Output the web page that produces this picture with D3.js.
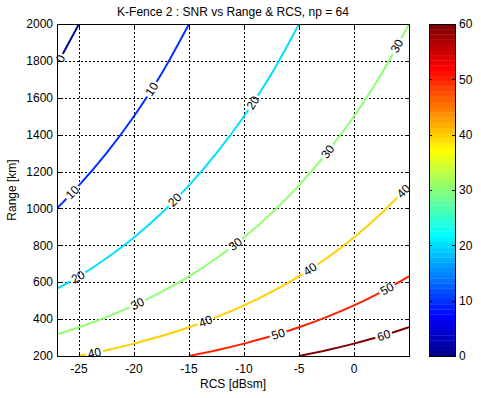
<!DOCTYPE html>
<html>
<head>
<meta charset="utf-8">
<script src="https://cdn.jsdelivr.net/npm/d3@7"></script>
<style>
	body { margin: 0; background: #fff; }
	text { font-family: Arial, "Liberation Sans", sans-serif; font-size: 12px; fill: #000; }
</style>
</head>
<body>
<svg width="481" height="398"></svg>
<script>
// Chart data
const rcs_ticks = [-25, -20, -15, -10, -5, 0];
const range_ticks = [200, 400, 600, 800, 1000, 1200, 1400, 1600, 1800, 2000];
const colorbar_ticks = [0, 10, 20, 30, 40, 50, 60];
const levels = [0, 10, 20, 30, 40, 50, 60];

// Contour points: [RCS dBsm, range km]
const snr_0 = [[-27, 1780], [-26, 1890], [-25, 2000]];
const snr_10 = [[-27, 1000], [-25, 1125], [-22.5, 1300], [-20, 1500], [-17.5, 1730], [-15, 2000]];
const snr_20 = [[-27, 565], [-25, 632], [-22.5, 730], [-20, 843], [-17.5, 974], [-15, 1125],
	[-12.5, 1300], [-10, 1500], [-7.5, 1730], [-5, 2000]];
const snr_30 = [[-27, 317], [-25, 356], [-22.5, 411], [-20, 474], [-17.5, 548], [-15, 632],
	[-12.5, 730], [-10, 843], [-7.5, 974], [-5, 1125], [-2.5, 1300], [0, 1500], [2.5, 1730], [5, 2000]];
const snr_40 = [[-25, 200], [-22.5, 231], [-20, 267], [-17.5, 308], [-15, 356], [-12.5, 411],
	[-10, 474], [-7.5, 548], [-5, 632], [-2.5, 730], [0, 843], [2.5, 974], [5, 1125]];
const snr_50 = [[-15, 200], [-12.5, 231], [-10, 267], [-7.5, 308], [-5, 356], [-2.5, 411],
	[0, 474], [2.5, 548], [5, 632]];
const snr_60 = [[-5, 200], [-2.5, 231], [0, 267], [2.5, 308], [5, 356]];

// Where the inline labels sit, as RCS along each contour
const labels_0 = [-26.7];
const labels_10 = [-25.6, -18.4];
const labels_20 = [-25.1, -16.3, -9.2];
const labels_30 = [-19.7, -10.8, -2.4, 3.9];
const labels_40 = [-23.6, -13.5, -4.0, 4.5];
const labels_50 = [-6.9, 3.0];
const labels_60 = [2.7];

const contour_points = [snr_0, snr_10, snr_20, snr_30, snr_40, snr_50, snr_60];
const contour_labels = [labels_0, labels_10, labels_20, labels_30, labels_40, labels_50, labels_60];

// Layout
const svg = d3.select("svg");
const plot = {left: 57, right: 409, top: 24, bottom: 356};
const cbar = {left: 429, right: 455, top: 24, bottom: 356};

const x = d3.scaleLinear().domain([-27, 5]).range([plot.left, plot.right]);
const y = d3.scaleLinear().domain([200, 2000]).range([plot.bottom, plot.top]);
const c = d3.scaleLinear().domain([0, 60]).range([cbar.bottom, cbar.top]);

/**
 * MATLAB jet colormap with m entries
 */
function jet(m){
	let n = Math.ceil(m / 4);
	let u = [];
	for (let i = 1; i <= n; i++) u.push(i / n);
	for (let i = 1; i < n; i++) u.push(1);
	for (let i = n; i >= 1; i--) u.push(i / n);
	let g0 = Math.ceil(n / 2) - (m % 4 == 1 ? 1 : 0);
	let map = d3.range(m).map(() => [0, 0, 0]);
	u.forEach(function(v, k){
		let g = g0 + k + 1, r = g + n, b = g - n;
		if (r <= m) map[r - 1][0] = v;
		if (g <= m) map[g - 1][1] = v;
		if (b >= 1) map[b - 1][2] = v;
	});
	return map.map(d => d3.rgb(d[0] * 255, d[1] * 255, d[2] * 255).formatHex());
}

const cmap = jet(64);
function level_color(level){
	let idx = Math.min(Math.floor(level / 60 * 64), 63);
	return cmap[idx];
}

// Title and axis labels
svg.append("text")
   .attr("x", (plot.left + plot.right) / 2)
   .attr("y", 16)
   .attr("text-anchor", "middle")
   .text("K-Fence 2 : SNR vs Range & RCS, np = 64");

svg.append("text")
   .attr("x", (plot.left + plot.right) / 2)
   .attr("y", 388)
   .attr("text-anchor", "middle")
   .text("RCS [dBsm]");

svg.append("text")
   .attr("transform", `translate(16, ${(plot.top + plot.bottom) / 2}) rotate(-90)`)
   .attr("text-anchor", "middle")
   .text("Range [km]");

// Grid
const grid = svg.append("g")
   .attr("stroke", "#000")
   .attr("stroke-width", 1)
   .attr("stroke-dasharray", "2,2")
   .attr("shape-rendering", "crispEdges");

grid.selectAll("line.gx")
   .data(rcs_ticks)
   .enter()
   .append("line")
   .attr("x1", d => Math.round(x(d)) + 0.5)
   .attr("x2", d => Math.round(x(d)) + 0.5)
   .attr("y1", plot.top)
   .attr("y2", plot.bottom);

grid.selectAll("line.gy")
   .data(range_ticks.filter(d => d > 200 && d < 2000))
   .enter()
   .append("line")
   .attr("x1", plot.left)
   .attr("x2", plot.right)
   .attr("y1", d => Math.round(y(d)) + 0.5)
   .attr("y2", d => Math.round(y(d)) + 0.5);

// Contours
const defs = svg.append("defs");
defs.append("clipPath")
   .attr("id", "plot-clip")
   .append("rect")
   .attr("x", plot.left)
   .attr("y", plot.top)
   .attr("width", plot.right - plot.left)
   .attr("height", plot.bottom - plot.top);

const line = d3.line()
   .x(d => x(d[0]))
   .y(d => y(d[1]))
   .curve(d3.curveMonotoneX);

/**
 * Position and angle of a label placed at a given RCS along a contour
 */
function label_at(points, rcs){
	let px = points.map(d => [x(d[0]), y(d[1])]);
	let tx = x(rcs);
	let i = d3.bisector(d => d[0]).right(px, tx) - 1;
	i = Math.max(0, Math.min(i, px.length - 2));
	let a = px[i], b = px[i + 1];
	let t = (tx - a[0]) / (b[0] - a[0]);
	let ang = Math.atan2(b[1] - a[1], b[0] - a[0]) * 180 / Math.PI;
	return {x: tx, y: a[1] + t * (b[1] - a[1]), angle: ang};
}

const contours = svg.append("g").attr("clip-path", "url(#plot-clip)");
const label_layer = svg.append("g");

levels.forEach(function(level, li){
	let points = contour_points[li];
	let spots = contour_labels[li].map(r => label_at(points, r));
	let text = String(level);
	let w = text.length * 6.7 + 4;

	let mask = defs.append("mask").attr("id", `mask_${li}`);
	mask.append("rect")
	   .attr("x", 0).attr("y", 0).attr("width", 481).attr("height", 398)
	   .attr("fill", "#fff");
	mask.selectAll("rect.gap")
	   .data(spots)
	   .enter()
	   .append("rect")
	   .attr("x", -w / 2).attr("y", -6).attr("width", w).attr("height", 12)
	   .attr("fill", "#000")
	   .attr("transform", d => `translate(${d.x},${d.y}) rotate(${d.angle})`);

	contours.append("path")
	   .datum(points)
	   .attr("d", line)
	   .attr("fill", "none")
	   .attr("stroke", level_color(level))
	   .attr("stroke-width", 2)
	   .attr("mask", `url(#mask_${li})`);

	label_layer.selectAll(null)
	   .data(spots)
	   .enter()
	   .append("text")
	   .attr("text-anchor", "middle")
	   .attr("dy", "0.35em")
	   .attr("transform", d => `translate(${d.x},${d.y}) rotate(${d.angle})`)
	   .text(text);
});

// Axes box, ticks and labels
const tick_len = 3.5;
const axes = svg.append("g").attr("stroke", "#000").attr("fill", "none").attr("shape-rendering", "crispEdges");
axes.append("rect")
   .attr("x", plot.left + 0.5).attr("y", plot.top + 0.5)
   .attr("width", plot.right - plot.left).attr("height", plot.bottom - plot.top);

rcs_ticks.forEach(function(d){
	let px = Math.round(x(d)) + 0.5;
	axes.append("line").attr("x1", px).attr("x2", px).attr("y1", plot.bottom).attr("y2", plot.bottom - tick_len);
	axes.append("line").attr("x1", px).attr("x2", px).attr("y1", plot.top).attr("y2", plot.top + tick_len);
});
range_ticks.forEach(function(d){
	let py = Math.round(y(d)) + 0.5;
	axes.append("line").attr("x1", plot.left).attr("x2", plot.left + tick_len).attr("y1", py).attr("y2", py);
	axes.append("line").attr("x1", plot.right).attr("x2", plot.right - tick_len).attr("y1", py).attr("y2", py);
});

svg.selectAll("text.xt")
   .data(rcs_ticks)
   .enter()
   .append("text")
   .attr("x", d => x(d))
   .attr("y", 373)
   .attr("text-anchor", "middle")
   .text(d => d);

svg.selectAll("text.yt")
   .data(range_ticks)
   .enter()
   .append("text")
   .attr("x", plot.left - 4)
   .attr("y", d => y(d))
   .attr("dy", "0.35em")
   .attr("text-anchor", "end")
   .text(d => d);

// Colorbar
const band = (cbar.bottom - cbar.top) / 64;
svg.append("g")
   .selectAll("rect")
   .data(cmap)
   .enter()
   .append("rect")
   .attr("x", cbar.left)
   .attr("y", (d, i) => c((i + 1) * 60 / 64))
   .attr("width", cbar.right - cbar.left)
   .attr("height", band + 0.3)
   .attr("fill", d => d);

const cb_axes = svg.append("g").attr("stroke", "#000").attr("fill", "none").attr("shape-rendering", "crispEdges");
cb_axes.append("rect")
   .attr("x", cbar.left + 0.5).attr("y", cbar.top + 0.5)
   .attr("width", cbar.right - cbar.left).attr("height", cbar.bottom - cbar.top);
colorbar_ticks.forEach(function(d){
	let py = Math.round(c(d)) + 0.5;
	cb_axes.append("line").attr("x1", cbar.left).attr("x2", cbar.left + 3).attr("y1", py).attr("y2", py);
	cb_axes.append("line").attr("x1", cbar.right).attr("x2", cbar.right - 3).attr("y1", py).attr("y2", py);
});

svg.selectAll("text.ct")
   .data(colorbar_ticks)
   .enter()
   .append("text")
   .attr("x", cbar.right + 4)
   .attr("y", d => c(d))
   .attr("dy", "0.35em")
   .text(d => d);
</script>
</body>
</html>
